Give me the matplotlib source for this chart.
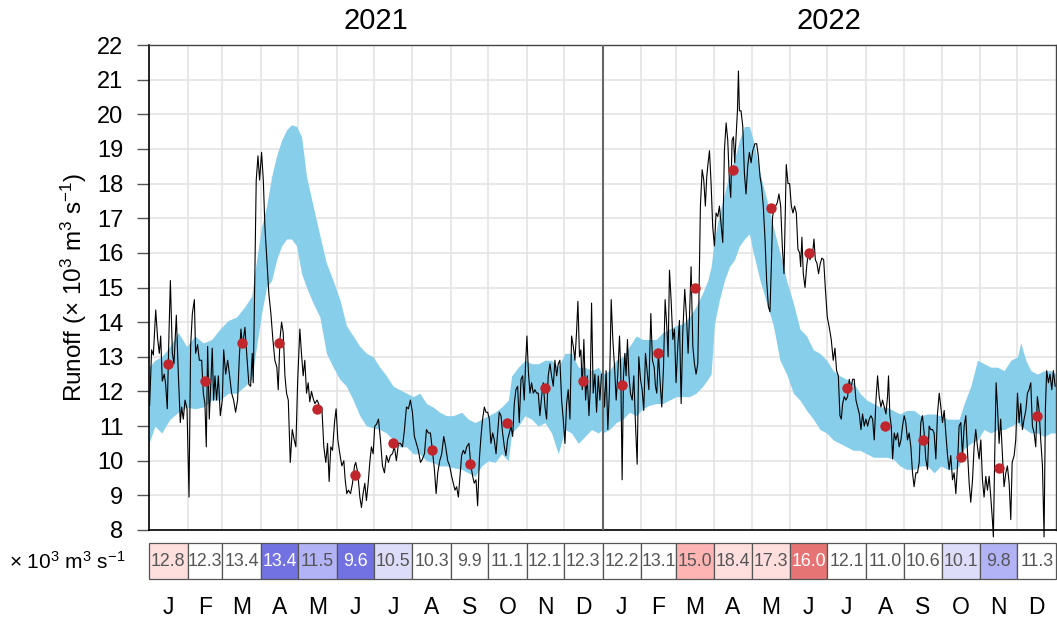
import matplotlib
matplotlib.use('Agg')
import matplotlib.pyplot as plt
import numpy as np
import pandas as pd

plt.rcParams['font.family'] = ['Liberation Sans', 'DejaVu Sans']
plt.rcParams['mathtext.fontset'] = 'custom'
plt.rcParams['mathtext.rm'] = 'Liberation Sans'
plt.rcParams['mathtext.it'] = 'Liberation Sans:italic'

##################################################
#                     Data                       #
##################################################
years = [2021, 2022]
month_letters = ['J', 'F', 'M', 'A', 'M', 'J', 'J', 'A', 'S', 'O', 'N', 'D']

# daily runoff, day of year -> 10^3 m3/s
doy_2021 = [0.5, 2.1, 3.5, 5.4, 7.0, 8.3, 9.4, 10.7, 12.3, 13.4, 14.7, 16.1, 17.2, 18.8, 20.1, 22.0, 23.6, 25.2,
            26.3, 27.6, 29.0, 30.6, 32.2, 33.5, 34.9, 36.5, 37.5, 39.1, 40.5, 42.4, 43.7, 45.0, 46.1, 47.2, 48.5,
            49.9, 50.9, 52.0, 53.1, 54.4, 55.8, 57.4, 59.0, 60.1, 61.7, 63.3, 64.9, 66.5, 68.1, 69.7, 71.3, 72.7,
            74.0, 75.3, 77.2, 78.8, 80.4, 81.8, 83.1, 83.9, 85.3, 86.3, 87.7, 89.0, 90.6, 92.0, 93.3, 94.9, 96.5,
            98.1, 99.7, 101.3, 102.9, 104.0, 105.4, 106.7, 108.0, 109.4, 110.7, 112.1, 113.7, 115.3, 116.9, 118.2,
            119.6, 121.4, 122.7, 124.1, 125.4, 126.8, 128.1, 129.4, 130.8, 132.1, 133.5, 135.3, 137.5, 139.1,
            140.7, 142.3, 143.7, 145.0, 146.3, 147.7, 149.3, 150.6, 152.0, 153.6, 155.2, 156.8, 157.9, 159.2,
            160.5, 162.2, 163.8, 165.4, 166.4, 168.0, 169.7, 171.0, 172.3, 173.7, 175.0, 176.4, 177.7, 179.0,
            180.4, 181.7, 183.1, 184.7, 186.3, 187.9, 189.5, 191.1, 192.7, 194.3, 195.9, 197.5, 199.1, 200.8,
            202.4, 204.0, 205.6, 207.2, 208.8, 210.4, 212.0, 213.6, 215.2, 216.8, 218.5, 220.1, 221.7, 223.3,
            224.9, 226.5, 228.1, 229.7, 231.1, 232.4, 234.0, 235.6, 237.2, 238.8, 240.4, 242.0, 243.6, 244.9,
            246.3, 247.6, 249.0, 250.3, 251.6, 253.0, 254.3, 255.7, 257.5, 259.1, 260.5, 261.8, 263.2, 264.5,
            265.9, 267.2, 268.5, 269.9, 271.2, 272.6, 273.9, 275.2, 276.6, 277.9, 279.3, 280.6, 281.9, 283.3,
            284.6, 286.0, 287.3, 288.6, 290.0, 291.3, 292.7, 294.0, 295.3, 296.7, 298.0, 299.4, 300.7, 302.0,
            303.1, 304.2, 305.3, 306.6, 307.9, 309.3, 310.6, 312.0, 313.3, 314.6, 316.0, 317.3, 318.7, 320.0,
            321.3, 322.7, 324.0, 325.4, 326.7, 328.1, 329.4, 330.7, 332.1, 333.4, 334.8, 336.1, 337.4, 338.8,
            340.1, 341.5, 342.8, 344.1, 345.2, 346.5, 347.6, 348.7, 350.0, 351.4, 352.7, 354.1, 355.1, 356.2,
            357.5, 358.9, 360.2, 361.6, 362.9, 364.2]
flow_2021 = [11.6, 13.2, 13.05, 14.35, 13.5, 13.1, 13.6, 12.3, 12.5, 12.2, 11.5, 13.7, 15.2, 13.1, 12.8, 14.2, 12.5,
             11.1, 11.55, 11.2, 11.75, 11.5, 8.95, 13.3, 14.25, 14.65, 13.1, 13.35, 12.9, 12.9, 11.95, 11.65, 10.4,
             13.3, 11.2, 12.35, 13.25, 11.75, 12.45, 11.75, 12.45, 11.3, 11.75, 13.2, 12.5, 12.9, 12.45, 11.95,
             11.75, 11.4, 11.75, 13.0, 13.8, 13.3, 13.85, 13.0, 12.2, 12.15, 13.1, 12.25, 15.6, 18.1, 18.8, 18.1,
             18.9, 18.1, 16.75, 15.8, 14.8, 14.25, 13.5, 12.9, 12.7, 12.05, 13.5, 14.0, 13.7, 12.45, 11.95, 11.75,
             9.95, 10.9, 10.6, 10.4, 12.25, 13.8, 13.1, 12.45, 12.9, 11.95, 12.25, 11.7, 12.0, 11.8, 11.65, 11.75,
             11.55, 11.55, 10.4, 9.95, 10.5, 9.4, 10.4, 10.3, 11.1, 11.5, 10.6, 10.2, 9.85, 10.0, 9.45, 9.05, 9.15,
             9.05, 9.35, 9.85, 9.95, 9.65, 8.95, 8.65, 9.05, 9.35, 8.85, 9.35, 9.95, 10.4, 10.2, 11.0, 11.05, 11.2,
             10.6, 9.85, 9.65, 10.15, 9.95, 10.15, 10.2, 10.4, 10.0, 10.5, 10.5, 10.4, 10.9, 11.55, 11.5, 11.75,
             11.4, 10.7, 10.5, 10.3, 9.95, 10.05, 10.2, 10.9, 10.8, 10.8, 10.3, 9.75, 9.05, 9.65, 10.0, 10.2, 10.7,
             10.4, 10.0, 9.85, 9.55, 9.35, 9.15, 9.25, 8.95, 9.55, 10.15, 10.3, 10.2, 10.4, 10.5, 9.85, 9.55, 9.35,
             9.45, 8.7, 10.05, 10.7, 11.2, 11.55, 11.4, 11.4, 11.2, 10.5, 10.8, 10.6, 10.2, 10.8, 11.4, 11.3, 10.8,
             10.4, 10.15, 10.6, 10.8, 11.0, 10.7, 11.65, 12.05, 12.15, 11.1, 12.35, 12.45, 11.75, 12.8, 13.6, 12.6,
             11.95, 12.25, 11.95, 12.05, 11.95, 11.95, 11.3, 11.85, 12.25, 11.55, 11.2, 12.45, 12.8, 12.45, 12.15,
             12.9, 12.45, 12.8, 12.9, 11.75, 11.2, 10.5, 11.65, 12.05, 11.2, 13.6, 13.3, 12.9, 13.7, 14.6, 13.0,
             13.2, 12.05, 13.5, 11.75, 12.45, 11.3, 12.05, 14.55, 11.95, 12.5, 11.4, 12.45, 11.75, 12.5]

doy_2022 = [0.3, 1.6, 2.9, 4.3, 5.6, 7.0, 8.3, 9.7, 11.0, 12.3, 13.7, 14.7, 15.8, 16.9, 18.0, 19.0, 20.1, 21.2,
            22.5, 23.9, 25.2, 26.5, 27.9, 29.2, 30.6, 31.9, 33.2, 34.6, 35.9, 37.3, 38.9, 40.2, 41.6, 42.6, 43.7,
            45.0, 46.4, 47.7, 49.1, 50.4, 51.7, 52.8, 53.9, 55.2, 56.6, 57.9, 59.2, 60.6, 61.9, 63.3, 64.6, 66.2,
            67.6, 68.9, 70.0, 71.3, 72.7, 74.0, 75.3, 76.7, 77.7, 78.8, 80.2, 81.5, 82.8, 83.9, 85.0, 86.1, 87.4,
            88.7, 90.1, 91.4, 92.8, 94.1, 95.4, 96.8, 98.1, 99.5, 100.8, 102.1, 103.2, 104.3, 105.4, 106.4, 107.5,
            108.6, 109.4, 110.2, 111.5, 112.9, 114.2, 115.5, 116.9, 118.2, 119.6, 120.9, 122.7, 124.1, 125.4,
            126.8, 128.1, 129.4, 130.8, 132.1, 133.5, 134.8, 136.1, 136.9, 138.0, 139.4, 140.7, 142.0, 143.4,
            144.7, 146.1, 147.1, 147.9, 149.3, 150.6, 152.0, 153.3, 154.6, 156.0, 157.3, 158.7, 159.5, 160.5,
            161.6, 163.0, 164.3, 165.6, 167.0, 168.3, 169.4, 170.2, 171.3, 172.6, 173.9, 175.3, 176.6, 178.0,
            179.3, 180.9, 182.5, 184.1, 185.7, 187.1, 188.4, 189.8, 191.1, 192.2, 193.3, 194.6, 195.9, 197.3,
            198.6, 199.9, 201.3, 202.6, 204.0, 205.3, 206.7, 208.0, 209.3, 210.7, 212.0, 213.4, 214.7, 216.0,
            217.4, 218.7, 220.1, 221.4, 222.7, 224.1, 225.4, 226.8, 228.1, 229.4, 230.2, 231.3, 232.4, 233.5,
            234.8, 236.1, 237.5, 238.8, 240.2, 241.5, 242.8, 244.1, 245.5, 246.8, 248.2, 249.5, 250.8, 252.2,
            253.5, 254.9, 256.2, 257.5, 258.9, 260.2, 261.6, 262.9, 264.2, 265.6, 266.9, 268.3, 269.6, 271.0,
            272.3, 273.6, 275.0, 276.3, 277.7, 279.0, 280.3, 281.7, 283.0, 284.4, 285.7, 287.0, 288.4, 289.7,
            291.1, 292.4, 293.7, 295.1, 296.4, 297.8, 299.1, 300.4, 301.8, 303.1, 304.5, 305.8, 307.1, 308.5,
            309.8, 311.2, 312.5, 313.8, 314.6, 315.7, 316.8, 317.9, 319.2, 320.5, 321.9, 323.2, 324.6, 325.9,
            327.3, 328.6, 329.7, 331.3, 332.6, 334.0, 335.3, 336.6, 338.0, 339.3, 340.7, 342.0, 343.3, 344.7,
            346.0, 347.4, 348.7, 350.0, 351.4, 352.7, 354.1, 355.4, 356.5, 357.5, 358.9, 360.2, 361.6, 362.9,
            364.3]
flow_2022 = [12.5, 11.55, 12.6, 10.9, 12.05, 14.65, 13.5, 12.7, 11.75, 12.5, 13.6, 12.6, 9.45, 12.45, 13.1, 12.45,
             13.5, 12.5, 11.95, 11.75, 12.45, 11.1, 9.9, 13.0, 12.35, 12.05, 11.45, 13.1, 12.6, 12.05, 14.25, 12.9,
             12.7, 12.15, 11.95, 13.1, 12.25, 11.55, 12.7, 14.65, 13.9, 13.0, 15.5, 14.65, 13.5, 13.8, 12.25, 13.3,
             14.05, 11.65, 13.7, 14.95, 14.15, 13.1, 14.15, 15.6, 13.3, 12.8, 12.5, 12.8, 14.85, 17.35, 18.4, 18.1,
             17.35, 18.2, 18.6, 18.95, 18.0, 16.75, 16.2, 17.15, 17.05, 17.35, 16.85, 16.3, 18.95, 19.75, 19.25,
             18.1, 17.6, 19.25, 19.35, 18.6, 19.35, 20.1, 21.25, 20.1, 20.1, 19.65, 18.3, 17.7, 18.5, 18.9, 18.6,
             18.95, 19.15, 19.15, 18.8, 18.2, 17.9, 17.35, 16.4, 15.2, 14.45, 14.3, 15.9, 17.05, 17.25, 17.35,
             17.45, 17.7, 17.35, 16.2, 15.4, 17.15, 18.55, 18.0, 18.0, 17.35, 17.15, 17.35, 17.15, 16.1, 16.0,
             15.6, 16.45, 15.4, 15.0, 15.6, 16.0, 15.8, 16.0, 16.1, 16.4, 15.8, 15.7, 15.4, 15.7, 15.85, 15.8,
             15.0, 14.15, 13.85, 13.5, 12.9, 13.25, 12.6, 12.45, 11.3, 11.2, 11.65, 11.85, 11.75, 11.85, 12.35,
             12.05, 12.35, 12.35, 11.75, 11.55, 11.35, 10.9, 11.35, 11.0, 11.2, 11.0, 11.2, 11.3, 11.2, 10.6,
             11.75, 12.45, 11.85, 11.55, 11.75, 11.55, 11.35, 11.85, 12.45, 11.3, 11.0, 10.05, 10.8, 10.6, 10.8,
             10.4, 10.6, 11.0, 11.3, 11.1, 10.6, 10.8, 10.4, 9.65, 9.25, 9.65, 9.65, 9.95, 11.1, 11.3, 10.8,
             10.05, 9.75, 11.0, 10.9, 10.9, 10.8, 10.05, 11.35, 11.95, 11.55, 11.1, 11.45, 10.8, 10.15, 9.75,
             10.15, 9.45, 9.65, 9.05, 9.85, 11.0, 11.1, 10.15, 11.0, 11.3, 10.3, 9.35, 8.8, 9.45, 10.4, 10.9,
             10.4, 10.05, 10.6, 9.45, 8.95, 9.55, 9.15, 9.55, 8.95, 8.3, 7.8, 10.2, 12.25, 11.55, 10.5, 11.2,
             10.15, 9.25, 9.65, 9.85, 9.35, 8.3, 9.95, 10.15, 10.6, 11.95, 11.1, 11.65, 10.9, 11.2, 11.45, 11.95,
             12.05, 12.25, 11.0, 10.8, 10.4, 11.85, 11.45, 10.6, 9.85, 7.8, 11.55, 12.6, 12.25, 12.5, 12.05,
             12.6, 12.15]

# reference range (shaded band), day of year
band_doy_2021 = [0, 4.8, 10.2, 16.9, 23.6, 30.3, 37.0, 43.7, 50.4, 57.1, 63.8, 70.5, 77.2, 82.6, 86.6, 90.6, 94.6,
                 98.7, 102.7, 106.7, 110.7, 114.7, 118.8, 122.8, 126.8, 132.1, 137.5, 142.8, 148.2, 153.6, 158.9,
                 164.3, 169.7, 175.0, 180.4, 185.7, 191.1, 196.5, 201.8, 207.2, 212.6, 217.9, 223.3, 228.6, 234.0,
                 239.4, 244.7, 251.6, 257.0, 262.4, 267.7, 273.1, 278.5, 283.8, 289.2, 291.9, 297.2, 302.6, 307.9,
                 313.3, 318.7, 324.0, 329.4, 334.8, 340.1, 345.5, 350.8, 356.2, 361.6, 365]
band_hi_2021 = [12.7, 12.9, 13.0, 13.3, 13.7, 13.3, 13.6, 13.4, 13.5, 13.8, 14.05, 14.15, 14.45, 14.75, 15.8, 16.75,
                17.35, 18.2, 18.8, 19.25, 19.55, 19.7, 19.65, 19.35, 18.2, 17.35, 16.5, 15.7, 15.2, 14.65, 13.9,
                13.6, 13.3, 13.1, 13.0, 12.7, 12.45, 12.15, 12.05, 11.95, 11.85, 11.95, 11.65, 11.55, 11.4, 11.3,
                11.3, 11.4, 11.2, 11.1, 11.2, 11.3, 11.4, 11.55, 11.75, 12.45, 12.7, 12.9, 12.8, 12.8, 12.9, 12.9,
                12.7, 13.1, 13.1, 12.7, 12.7, 12.6, 12.7, 12.5]
band_lo_2021 = [10.5, 11.0, 10.8, 11.2, 11.4, 11.55, 11.5, 11.55, 11.75, 11.75, 11.95, 11.95, 12.15, 12.35, 13.3,
                14.25, 15.0, 15.2, 15.8, 16.2, 16.4, 16.4, 16.2, 15.4, 15.0, 14.55, 14.15, 13.1, 12.7, 12.35, 12.15,
                11.75, 11.3, 11.0, 10.95, 10.9, 10.8, 10.6, 10.4, 10.4, 10.2, 10.2, 10.0, 9.95, 9.85, 9.85, 9.8,
                9.75, 9.65, 9.55, 9.85, 10.0, 9.95, 10.2, 10.0, 10.8, 11.0, 11.3, 11.2, 11.0, 11.1, 10.8, 10.2,
                10.9, 10.8, 10.5, 10.7, 10.9, 10.8, 10.9]

band_doy_2022 = [0, 5.6, 11.0, 16.4, 21.7, 27.1, 32.4, 37.8, 43.2, 48.5, 53.9, 59.2, 64.6, 70.0, 75.3, 80.7, 84.7,
                 87.4, 90.1, 94.1, 98.1, 102.1, 106.2, 110.2, 114.2, 118.2, 121.4, 126.8, 132.1, 137.5, 142.8, 148.2,
                 153.6, 158.9, 164.3, 169.7, 175.0, 180.4, 185.7, 191.1, 196.5, 201.8, 207.2, 212.6, 218.0, 223.3,
                 228.6, 234.0, 239.4, 244.7, 250.8, 256.2, 261.6, 266.9, 272.3, 277.7, 283.0, 287.0, 291.1, 296.4,
                 301.8, 307.1, 312.5, 317.9, 323.2, 328.6, 334.0, 336.6, 340.7, 344.7, 350.0, 355.4, 360.8, 365]
band_hi_2022 = [12.5, 12.6, 12.9, 13.0, 13.3, 13.6, 13.5, 13.5, 13.5, 13.7, 13.8, 13.9, 13.95, 14.15, 14.45, 14.85,
                15.2, 15.6, 16.4, 17.15, 17.7, 18.3, 18.7, 19.25, 19.65, 19.65, 19.25, 18.3, 17.55, 16.75, 16.0,
                15.2, 14.55, 13.8, 13.6, 13.2, 13.1, 12.9, 12.6, 12.45, 12.35, 12.25, 11.95, 11.75, 11.65, 11.55,
                11.55, 11.45, 11.35, 11.45, 11.45, 11.3, 11.35, 11.35, 11.3, 11.2, 11.2, 11.2, 11.65, 12.15, 12.9,
                12.8, 12.7, 12.7, 12.6, 12.9, 13.0, 13.4, 12.9, 12.6, 12.5, 12.6, 12.6, 12.5]
band_lo_2022 = [10.8, 10.9, 11.1, 11.2, 11.4, 11.3, 11.5, 11.6, 11.65, 11.65, 11.75, 11.85, 11.85, 11.85, 11.95,
                12.15, 12.35, 12.5, 13.95, 14.65, 15.2, 15.6, 15.8, 16.2, 16.4, 16.55, 16.0, 15.2, 14.55, 13.9,
                12.9, 12.5, 11.95, 11.75, 11.45, 11.2, 10.9, 10.8, 10.6, 10.5, 10.4, 10.3, 10.3, 10.2, 10.1, 10.1,
                10.1, 10.05, 9.85, 9.75, 9.75, 9.85, 9.85, 9.65, 9.85, 9.75, 9.75, 9.85, 10.35, 10.5, 10.6, 10.9,
                10.8, 10.9, 10.9, 11.0, 11.1, 11.0, 10.9, 10.8, 10.8, 10.7, 10.8, 10.8]

# monthly means (table row and red dots)
monthly_2021 = [12.8, 12.3, 13.4, 13.4, 11.5, 9.6, 10.5, 10.3, 9.9, 11.1, 12.1, 12.3]
monthly_2022 = [12.2, 13.1, 15.0, 18.4, 17.3, 16.0, 12.1, 11.0, 10.6, 10.1, 9.8, 11.3]
# anomaly class of each month (-3 .. 3)
class_2021 = [1, 0, 0, -3, -2, -3, -1, 0, 0, 0, 0, 0]
class_2022 = [0, 0, 2, 1, 1, 3, 0, 0, 0, -1, -2, 0]

class_colors = {-3: '#7272E2', -2: '#B2B2F6', -1: '#DDDDFA', 0: 'white',
                1: '#FFDEDE', 2: '#FFB4B4', 3: '#E77474'}

##################################################
#                     Layout                     #
##################################################
t0 = pd.Timestamp('2021-01-01')
mstart = pd.date_range('2021-01-01', '2023-01-01', freq='MS')
month_start = np.array([(d - t0).days for d in mstart[:-1]])
month_len = np.diff([(d - t0).days for d in mstart])
month_mid = month_start + month_len / 2
year_off = {2021: 0, 2022: (pd.Timestamp('2022-01-01') - t0).days}
total = (mstart[-1] - t0).days

W, H = 1057, 622
fig = plt.figure(figsize=(W / 100, H / 100), dpi=100)
ax = fig.add_axes([149 / W, (H - 530) / H, 907 / W, 485 / H])
tax = fig.add_axes([149 / W, (H - 579) / H, 907 / W, 36 / H])

# main panel
for yr, doy, lo, hi in [(2021, band_doy_2021, band_lo_2021, band_hi_2021),
                        (2022, band_doy_2022, band_lo_2022, band_hi_2022)]:
    x = np.array(doy) + year_off[yr]
    ax.fill_between(x, lo, hi, color='#87CEEB', lw=0, zorder=2)

x_obs = np.concatenate([np.array(doy_2021) + year_off[2021], np.array(doy_2022) + year_off[2022]])
y_obs = np.concatenate([flow_2021, flow_2022])
ax.plot(x_obs, y_obs, color='black', lw=0.8, zorder=3, clip_on=False)

ax.plot(month_mid, monthly_2021 + monthly_2022, 'o', color='#C0262B', ms=7.5, mec='none', zorder=4)

ax.axvline(year_off[2022], color='#666666', lw=1.5, zorder=3)

ax.set_xlim(0, total)
ax.set_ylim(8, 22)
ax.set_yticks(range(8, 23))
ax.set_xticks(month_start)
ax.set_xticklabels([])
ax.tick_params(axis='x', length=0)
ax.tick_params(axis='y', length=8.5, width=1, color='#555555', labelsize=17, pad=10)
ax.grid(True, color='#E4E4E4', lw=1.2, zorder=0)
ax.set_axisbelow(True)
for s in ['left', 'bottom']:
    ax.spines[s].set_color('black')
    ax.spines[s].set_linewidth(1.2)
for s in ['top', 'right']:
    ax.spines[s].set_color('#444444')
    ax.spines[s].set_linewidth(1.0)
ax.set_ylabel('Runoff (× 10$^3$ m$^3$ s$^{-1}$)', fontsize=17.5, labelpad=6)

for yr in years:
    ax.text(year_off[yr] + 182.5, 1.05, str(yr), transform=ax.get_xaxis_transform(),
            ha='center', va='center', fontsize=21)

# table row of monthly means
classes = class_2021 + class_2022
values = monthly_2021 + monthly_2022
tax.bar(month_start, 1, width=month_len, align='edge', color=[class_colors[c] for c in classes],
        edgecolor='#555555', linewidth=0.9, clip_on=False)
for xm, v, c in zip(month_mid, values, classes):
    tax.text(xm, 0.5, f'{v:.1f}', ha='center', va='center', fontsize=12.8,
             color='white' if abs(c) == 3 else '#555555')
tax.set_xlim(0, total)
tax.set_ylim(0, 1)
tax.set_xticks(month_mid)
tax.set_xticklabels(month_letters * 2, fontsize=16.5)
tax.tick_params(axis='x', length=0, pad=12)
tax.set_yticks([])
for s in tax.spines.values():
    s.set_visible(False)
fig.text(125 / W, (H - 562) / H, '× 10$^3$ m$^3$ s$^{-1}$', ha='right', va='center', fontsize=15)

fig.savefig('out.png', dpi=100)
